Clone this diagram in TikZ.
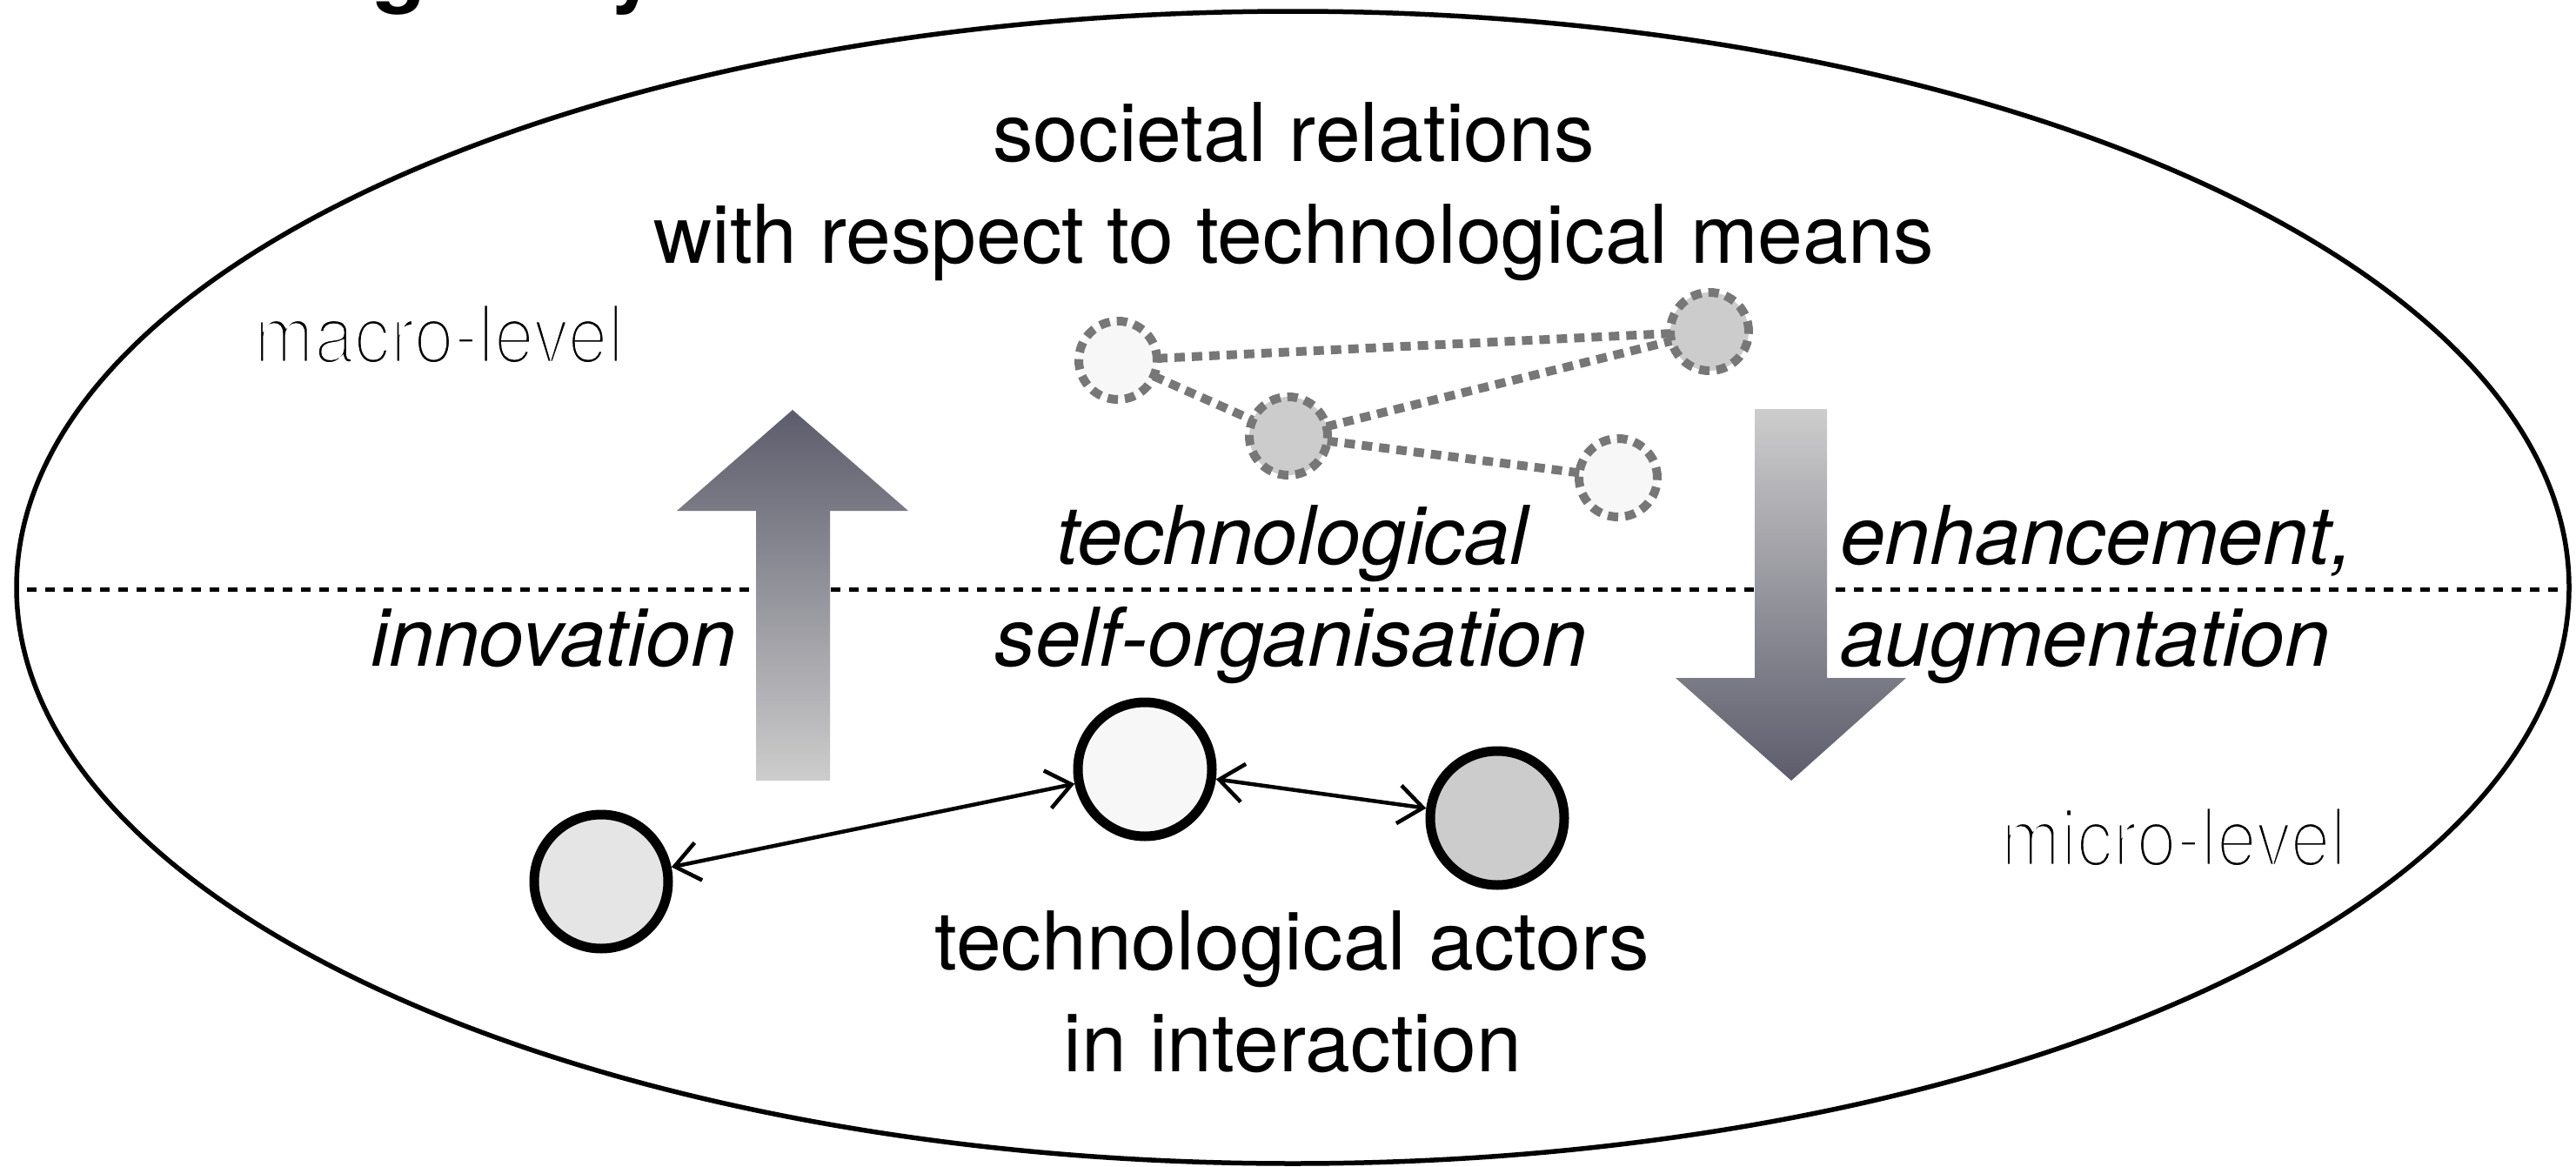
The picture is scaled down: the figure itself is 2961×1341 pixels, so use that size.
\documentclass[tikz,border=0pt]{standalone}
\usepackage{fontspec}
\setmainfont{TeX Gyre Heros}
\newfontfamily\thinfont{TeX Gyre Heros}[FakeStretch=0.89]
\usetikzlibrary{arrows.meta}
\definecolor{arrowdark}{HTML}{5C5C6C}
\definecolor{arrowlight}{HTML}{CDCDCD}
\definecolor{lightfill}{HTML}{F7F7F7}
\definecolor{midfill}{HTML}{E5E5E5}
\definecolor{darkfill}{HTML}{CCCCCC}
\definecolor{dashgray}{HTML}{777777}
\newcommand{\thintext}[1]{\special{pdf:literal direct 2 Tr 1 1 1 RG 1.3 w}#1\special{pdf:literal direct 0 Tr 0 0 0 RG}}
\begin{document}
\begin{tikzpicture}[x=0.1mm,y=-0.1mm,
  every node/.style={inner sep=0pt, outer sep=0pt},
  txt/.style={font=\fontsize{26.5}{32}\selectfont},
  itxt/.style={font=\fontsize{26.5}{32}\selectfont\itshape},
  lvl/.style={font=\fontsize{26.5}{32}\selectfont\thinfont},
  titlefrag/.style={font=\fontsize{28.5}{34}\selectfont\bfseries},
  actor/.style={circle, draw=black, line width=1.1mm, minimum size=15.4mm, outer sep=0.55mm},
  meanscircle/.style={circle, draw=dashgray, line width=1mm, dash pattern=on 1.2mm off 0.8mm, minimum size=9mm},
  meansedge/.style={draw=dashgray, line width=1mm, dash pattern=on 1.2mm off 0.8mm},
  interact/.style={line width=0.45mm, {Straight Barb[length=2.8mm,width=4.4mm]}-{Straight Barb[length=2.8mm,width=4.4mm]}},
  levelline/.style={line width=0.5mm, dash pattern=on 1.1mm off 1mm},
]
\useasboundingbox (0,0) rectangle (2961,1341);
\fill[white] (0,0) rectangle (2961,1341);

% cut-off title fragments
\begin{scope}
  \clip (0,0) rectangle (2961,20);
  \node[titlefrag, anchor=base west] (tg) at (428,-5) {g};
  \node[titlefrag, anchor=base west] (ty) at (700,-5) {y};
\end{scope}

% system boundary
\draw[line width=0.55mm] (1486,675) ellipse [x radius=1467, y radius=662];

% macro / micro separation
\coordinate (sepL) at (31,677);
\coordinate (sepR) at (2946,677);
\draw[levelline] (sepL) -- (sepR);

% block arrows
\shade[top color=arrowdark, bottom color=arrowlight]
  (911,471) -- (1044,587) -- (954,587) -- (954,897) -- (869,897) -- (869,587) -- (778,587) -- cycle;
\shade[top color=arrowlight, bottom color=arrowdark]
  (2017,470) -- (2100,470) -- (2100,779) -- (2191,779) -- (2059,897) -- (1926,779) -- (2017,779) -- cycle;

% technological means (macro)
\node[meanscircle, fill=lightfill] (m1) at (1285,414) {};
\node[meanscircle, fill=darkfill] (m2) at (1481,501) {};
\node[meanscircle, fill=darkfill] (m3) at (1965,381) {};
\node[meanscircle, fill=lightfill] (m4) at (1860,549) {};
\draw[meansedge] (m1) -- (m3);
\draw[meansedge] (m1) -- (m2);
\draw[meansedge] (m2) -- (m3);
\draw[meansedge] (m2) -- (m4);

% technological actors (micro)
\node[actor, fill=midfill] (a1) at (691,1013) {};
\node[actor, fill=lightfill] (a2) at (1316,884) {};
\node[actor, fill=darkfill] (a3) at (1721,940) {};
\draw[interact] (a1) -- (a2);
\draw[interact] (a2) -- (a3);

% texts
\node[txt, anchor=base] (soc1) at (1487,185) {societal relations};
\node[txt, anchor=base] (soc2) at (1487,302) {with respect to technological means};
\node[lvl, anchor=base west] (macro) at (292,417) {\thintext{macro-level}};
\node[lvl, anchor=base east] (micro) at (2697,995) {\thintext{micro-level}};
\node[itxt, anchor=base] (self1) at (1485,648) {technological};
\node[itxt, anchor=base] (self2) at (1484,765) {self-organisation};
\node[itxt, anchor=base east] (innov) at (846,765) {innovation};
\node[itxt, anchor=base west] (enh1) at (2115,648) {enhancement,};
\node[itxt, anchor=base west] (enh2) at (2115,765) {augmentation};
\node[txt, anchor=base] (act1) at (1485,1114) {technological actors};
\node[txt, anchor=base] (act2) at (1486,1231) {in interaction};
\end{tikzpicture}
\end{document}
